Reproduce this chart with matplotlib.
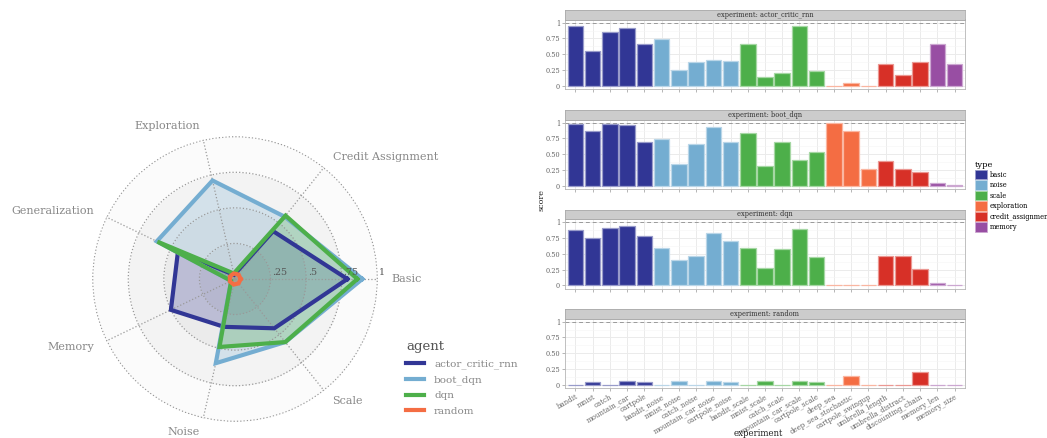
import numpy as np
import matplotlib
matplotlib.use('Agg')
import matplotlib.pyplot as plt
import matplotlib.colors as mcolors
import matplotlib.transforms as mtrans
from matplotlib.patches import Patch
from matplotlib.lines import Line2D

plt.rcParams['font.family'] = ['DejaVu Serif']

# ---------------- data ----------------
categories = ['Basic', 'Credit Assignment', 'Exploration', 'Generalization',
              'Memory', 'Noise', 'Scale']
agents = ['actor_critic_rnn', 'boot_dqn', 'dqn', 'random']
agent_colors = ['#313695', '#74add1', '#4daf4a', '#f46d43']

radar_actor_critic_rnn = [0.79, 0.43, 0.03, 0.445, 0.50, 0.345, 0.443]
radar_boot_dqn = [0.895, 0.56, 0.71, 0.61, 0.03, 0.607, 0.567]
radar_dqn = [0.86, 0.57, 0.04, 0.605, 0.03, 0.49, 0.567]
radar_random = [0.04, 0.04, 0.04, 0.04, 0.04, 0.04, 0.04]
radar_values = [radar_actor_critic_rnn, radar_boot_dqn, radar_dqn, radar_random]

experiments = ['bandit', 'mnist', 'catch', 'mountain_car', 'cartpole',
               'bandit_noise', 'mnist_noise', 'catch_noise', 'mountain_car_noise', 'cartpole_noise',
               'bandit_scale', 'mnist_scale', 'catch_scale', 'mountain_car_scale', 'cartpole_scale',
               'deep_sea', 'deep_sea_stochastic', 'cartpole_swingup',
               'umbrella_length', 'umbrella_distract', 'discounting_chain',
               'memory_len', 'memory_size']
experiment_types = ['basic', 'basic', 'basic', 'basic', 'basic',
                    'noise', 'noise', 'noise', 'noise', 'noise',
                    'scale', 'scale', 'scale', 'scale', 'scale',
                    'exploration', 'exploration', 'exploration',
                    'credit_assignment', 'credit_assignment', 'credit_assignment',
                    'memory', 'memory']
type_names = ['basic', 'noise', 'scale', 'exploration', 'credit_assignment', 'memory']
type_colors = ['#313695', '#74add1', '#4daf4a', '#f46d43', '#d73027', '#984ea3']

score_actor_critic_rnn = [0.95, 0.545, 0.86, 0.92, 0.67,
                          0.735, 0.25, 0.37, 0.405, 0.39,
                          0.67, 0.14, 0.20, 0.943, 0.24,
                          0.0, 0.047, 0.0,
                          0.35, 0.17, 0.385,
                          0.655, 0.35]
score_boot_dqn = [0.985, 0.87, 0.985, 0.958, 0.69,
                  0.74, 0.35, 0.66, 0.927, 0.69,
                  0.84, 0.32, 0.70, 0.41, 0.53,
                  1.0, 0.865, 0.27,
                  0.39, 0.26, 0.215,
                  0.042, 0.01]
score_dqn = [0.875, 0.745, 0.906, 0.943, 0.78,
             0.594, 0.40, 0.458, 0.823, 0.708,
             0.59, 0.276, 0.578, 0.885, 0.443,
             0.0, 0.0, 0.0,
             0.47, 0.47, 0.255,
             0.036, 0.0]
score_random = [0.0, 0.047, 0.0, 0.06, 0.04,
                0.0, 0.06, 0.0, 0.057, 0.04,
                0.0, 0.057, 0.0, 0.057, 0.04,
                0.0, 0.14, 0.0,
                0.0, 0.0, 0.20,
                0.0, 0.0]
scores = [score_actor_critic_rnn, score_boot_dqn, score_dqn, score_random]

ytick_vals = [0, 0.25, 0.5, 0.75, 1]
ytick_labels = ['0', '0.25', '0.50', '0.75', '1']
rtick_vals = [0.25, 0.5, 0.75, 1.0]
rtick_labels = ['.25', '.5', '.75', '1']


def lighten(c, f=0.5):
    r, g, b = mcolors.to_rgb(c)
    return (r + (1 - r) * f, g + (1 - g) * f, b + (1 - b) * f)


W, H = 1047, 438
fig = plt.figure(figsize=(W / 100, H / 100), dpi=100)
fig.patch.set_facecolor('white')

# ---------------- radar ----------------
cx, cy, R = 235, 279, 143
axr = fig.add_axes([(cx - R) / W, (H - cy - R) / H, 2 * R / W, 2 * R / H], polar=True)
axr.set_facecolor('white')
theta = np.linspace(0, 2 * np.pi, len(categories), endpoint=False)
circ = np.linspace(0, 2 * np.pi, 361)
band_edges = [0, 0.25, 0.5, 0.75, 1.0]
band_cols = ['#e3e3e3', '#ebebeb', '#f3f3f3', '#fbfbfb']
for i in range(4):
    axr.fill_between(circ, band_edges[i], band_edges[i + 1], color=band_cols[i],
                     lw=0, zorder=0.2)

for vals, col, name in zip(radar_values, agent_colors, agents):
    th = np.concatenate([theta, theta[:1]])
    v = np.concatenate([vals, vals[:1]])
    axr.fill(th, v, color=col, alpha=0.25, lw=0, zorder=1)
    axr.plot(th, v, color=col, lw=3, zorder=2, label=name, solid_joinstyle='miter')

axr.set_ylim(0, 1.005)
axr.set_yticks(rtick_vals)
axr.set_yticklabels([])
axr.set_xticks(theta)
axr.set_xticklabels([])
axr.tick_params(length=0)
axr.grid(True, linestyle=':', color='#999999', lw=0.9)
axr.spines['polar'].set_visible(False)

for t, lab in zip(theta, categories):
    c = np.cos(t)
    ha = 'left' if c > 1e-6 else 'right'
    axr.text(t, 1.10, lab, ha=ha, va='center', fontsize=8, color='#888888',
             clip_on=False)

off = mtrans.ScaledTranslation(0, 1.5 / 72, fig.dpi_scale_trans)
for r, lab in zip(rtick_vals, rtick_labels):
    axr.text(0, r + 0.012, lab, ha='left', va='bottom', fontsize=6.8, color='#555555',
             transform=axr.transData + off)

handles = [Line2D([0], [0], color=c, lw=3) for c in agent_colors]
leg = fig.legend(handles, agents, loc='upper left', bbox_to_anchor=(406 / W, 1 - 340 / H),
                 frameon=False, title='agent', fontsize=7.5, title_fontsize=9.5,
                 handlelength=1.7, handletextpad=1.0, labelspacing=0.58,
                 borderpad=0, borderaxespad=0, alignment='left')
for t in leg.get_texts():
    t.set_color('#888888')
leg.get_title().set_color('#555555')

# ---------------- bars ----------------
left, right = 565, 965
panel_tops = [19.5, 119.5, 219, 318.5]
panel_h_px = 69.5
strip_h_px = 9.5
x = np.arange(len(experiments))
bar_cols = [type_colors[type_names.index(t)] for t in experiment_types]
edge_cols = [lighten(c, 0.5) for c in bar_cols]

for k, (agent, vals) in enumerate(zip(agents, scores)):
    top = panel_tops[k]
    ax = fig.add_axes([left / W, (H - top - panel_h_px) / H, (right - left) / W, panel_h_px / H])
    ax.bar(x, vals, width=0.9, color=bar_cols, edgecolor=edge_cols, linewidth=0.9, zorder=3)
    ax.axhline(1, color='#9a9a9a', ls=(0, (4, 3)), lw=0.7, zorder=2)
    ax.set_xlim(-0.6, len(experiments) - 0.4)
    ax.set_ylim(-0.05, 1.05)
    ax.set_yticks(ytick_vals)
    ax.set_yticklabels(ytick_labels)
    ax.set_yticks([0.125, 0.375, 0.625, 0.875], minor=True)
    ax.set_xticks(x)
    ax.grid(which='major', color='#ebebeb', lw=0.7)
    ax.grid(which='minor', axis='y', color='#f5f5f5', lw=0.4)
    ax.set_axisbelow(True)
    for s in ax.spines.values():
        s.set_color('#b5b5b5')
        s.set_linewidth(0.6)
    ax.tick_params(which='major', length=2, width=0.5, color='#999999',
                   labelsize=4.8, labelcolor='#666666', pad=1.5)
    ax.tick_params(which='minor', length=0)
    if k == len(agents) - 1:
        ax.set_xticklabels(experiments, rotation=30, ha='right', rotation_mode='anchor',
                           fontsize=5, color='#666666')
    else:
        ax.set_xticklabels([])
    sax = fig.add_axes([left / W, (H - top) / H, (right - left) / W, strip_h_px / H])
    sax.set_facecolor('#cccccc')
    sax.set_xticks([])
    sax.set_yticks([])
    for s in sax.spines.values():
        s.set_color('#aaaaaa')
        s.set_linewidth(0.6)
    sax.text(0.5, 0.5, 'experiment: ' + agent, ha='center', va='center',
             fontsize=4.8, color='#333333', transform=sax.transAxes)

fig.text(541 / W, 1 - 200 / H, 'score', rotation=90, ha='center', va='center',
         fontsize=5.8, color='#222222')
fig.text(758 / W, 1 - 434 / H, 'experiment', ha='center', va='center',
         fontsize=6.2, color='#222222')

patch_handles = [Patch(facecolor=c, edgecolor=lighten(c, 0.5), lw=0.6) for c in type_colors]
leg2 = fig.legend(patch_handles, type_names, loc='upper left',
                  bbox_to_anchor=(975 / W, 1 - 161 / H), frameon=False, title='type',
                  fontsize=4.8, title_fontsize=6, handlelength=1.8, handleheight=1.8,
                  handletextpad=0.35, labelspacing=0.15, borderpad=0, borderaxespad=0,
                  alignment='left')

fig.savefig('out.png', dpi=100, facecolor='white')
